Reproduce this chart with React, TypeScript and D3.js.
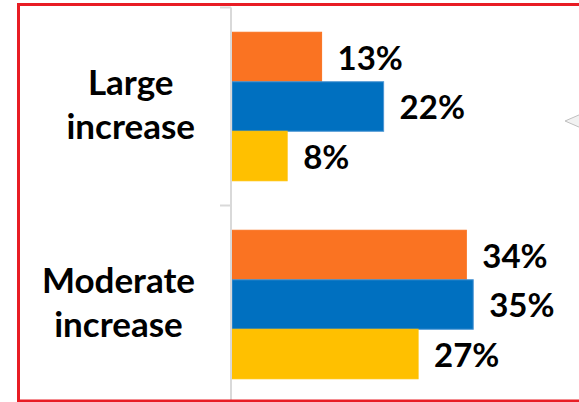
import React, { useEffect, useRef } from "react";
import * as d3 from "d3";

const categories = ["Large increase", "Moderate increase"];
const categoryLines = [["Large", "increase"], ["Moderate", "increase"]];
const seriesNames = ["Series A", "Series B", "Series C"];
const seriesColors = ["#FA7322", "#0070C0", "#FFC000"];
const seriesStroke = ["#FA7322", "#4A95D4", "#FFC000"];
const seriesA = [0.13, 0.34];
const seriesB = [0.22, 0.35];
const seriesC = [0.08, 0.27];
const valueLabels = [["13%", "34%"], ["22%", "35%"], ["8%", "27%"]];

const W = 579;
const H = 402;
const FONT = "Lato, 'Open Sans', sans-serif";

export default function App() {
  const ref = useRef<SVGSVGElement | null>(null);

  useEffect(() => {
    const svg = d3.select(ref.current);
    svg.selectAll("*").remove();

    const series = [seriesA, seriesB, seriesC];
    const x = d3.scaleLinear().domain([0, 0.5]).range([232, 576.6]);
    const y0 = d3.scaleBand<string>().domain(categories).range([7.5, 403.5]).padding(0);
    const y1 = d3
      .scaleBand<string>()
      .domain(seriesNames)
      .range([0, y0.bandwidth()])
      .paddingInner(0)
      .paddingOuter(0.5);

    svg.append("rect").attr("width", W).attr("height", H).attr("fill", "#ffffff");

    // bars
    categories.forEach((cat, ci) => {
      const g = svg.append("g").attr("transform", `translate(0,${y0(cat)})`);
      series.forEach((vals, si) => {
        const name = seriesNames[si];
        g.append("rect")
          .attr("x", x(0))
          .attr("y", y1(name)!)
          .attr("width", x(vals[ci]) - x(0))
          .attr("height", y1.bandwidth())
          .attr("fill", seriesColors[si])
          .attr("stroke", seriesStroke[si])
          .attr("stroke-width", 1);
        g.append("text")
          .attr("x", x(vals[ci]) + 16)
          .attr("y", y1(name)! + y1.bandwidth() / 2 + 12.5)
          .attr("font-family", FONT)
          .attr("font-weight", 700)
          .attr("font-size", 33)
          .attr("fill", "#000")
          .text(valueLabels[si][ci]);
      });
    });

    // axis line and ticks
    const axisX = 231;
    svg.append("line")
      .attr("x1", axisX).attr("x2", axisX)
      .attr("y1", y0.range()[0]).attr("y2", H)
      .attr("stroke", "#D9D9D9").attr("stroke-width", 2);
    const tickYs = [y0.range()[0], ...categories.slice(1).map((c) => y0(c)!)];
    tickYs.forEach((ty) => {
      svg.append("line")
        .attr("x1", 220).attr("x2", axisX)
        .attr("y1", ty).attr("y2", ty)
        .attr("stroke", "#D9D9D9").attr("stroke-width", 2);
    });

    // category labels (block right-aligned, lines centered)
    categories.forEach((cat, ci) => {
      const lines = categoryLines[ci];
      const cy = y0(cat)! + y0.bandwidth() / 2;
      const g = svg.append("g");
      const texts = lines.map((ln, li) =>
        g.append("text")
          .attr("y", cy - 12 + li * 44)
          .attr("text-anchor", "middle")
          .attr("font-family", FONT)
          .attr("font-weight", 700)
          .attr("font-size", 35)
          .attr("fill", "#000")
          .text(ln)
      );
      const maxW = d3.max(texts, (t) => (t.node() as SVGTextElement).getComputedTextLength()) || 0;
      texts.forEach((t) => t.attr("x", 195 - maxW / 2));
    });

    // partial callout shape at right
    svg.append("path")
      .attr("d", "M565,121 L580,114.5 L580,127.5 Z")
      .attr("fill", "#F2F2F2")
      .attr("stroke", "#BFBFBF")
      .attr("stroke-width", 1);

    // red frame
    svg.append("rect")
      .attr("x", 18.5).attr("y", 4.5)
      .attr("width", 600).attr("height", 396.5)
      .attr("fill", "none")
      .attr("stroke", "#E81C24")
      .attr("stroke-width", 3);
  }, []);

  return (
    <svg
      ref={ref}
      width={W}
      height={H}
      style={{ position: "absolute", left: 0, top: 0, display: "block" }}
    />
  );
}
